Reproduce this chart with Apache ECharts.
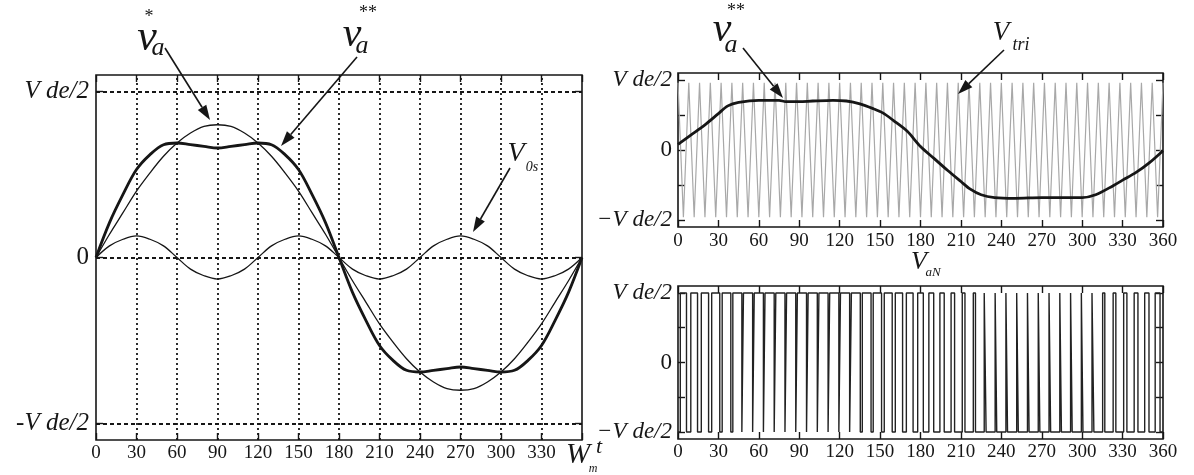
<!DOCTYPE html>
<html>
<head>
<meta charset="utf-8">
<script src="https://cdn.jsdelivr.net/npm/echarts@6/dist/echarts.min.js"></script>
<style>
  html, body { margin: 0; padding: 0; background: #fff; }
  #chart { width: 1194px; height: 475px; }
</style>
</head>
<body>
<div id="chart"></div>
<script>
// ---- values (in units of Vdc/2, angle in degrees) ----
const degLeft = [0,10,20,30,40,50,60,70,80,90,100,110,120,130,140,150,160,170,180,
                 190,200,210,220,230,240,250,260,270,280,290,300,310,320,330,340,350,360];

// sinusoidal reference v_a*
const vaStar = [0,0.14,0.27,0.40,0.51,0.61,0.69,0.75,0.79,0.80,0.79,0.75,0.69,0.61,0.51,0.40,0.27,0.14,0,
                -0.14,-0.27,-0.40,-0.51,-0.61,-0.69,-0.75,-0.79,-0.80,-0.79,-0.75,-0.69,-0.61,-0.51,-0.40,-0.27,-0.14,0];

// zero-sequence component V_0s
const v0s = [0,0.07,0.11,0.13,0.11,0.07,0,-0.07,-0.11,-0.13,-0.11,-0.07,0,0.07,0.11,0.13,0.11,0.07,0,
             -0.07,-0.11,-0.13,-0.11,-0.07,0,0.07,0.11,0.13,0.11,0.07,0,-0.07,-0.11,-0.13,-0.11,-0.07,0];

// modified reference v_a**
const vaDouble = [0,0.21,0.38,0.53,0.62,0.68,0.69,0.68,0.67,0.66,0.67,0.68,0.69,0.68,0.62,0.53,0.38,0.21,0,
                  -0.21,-0.38,-0.53,-0.62,-0.68,-0.69,-0.68,-0.67,-0.66,-0.67,-0.68,-0.69,-0.68,-0.62,-0.53,-0.38,-0.21,0];

// v_a** as drawn against the carrier
const rightDeg = [0,10,20,30,37,45,60,75,80,90,100,115,125,135,145,152,160,170,180,190,200,210,217,225,235,250,270,290,300,310,323,330,340,350,360];
const rightVa  = [0.08,0.22,0.36,0.52,0.63,0.68,0.71,0.71,0.69,0.69,0.70,0.71,0.70,0.66,0.59,0.53,0.42,0.27,0.05,-0.12,-0.29,-0.45,-0.56,-0.64,-0.68,-0.69,-0.68,-0.68,-0.68,-0.64,-0.51,-0.43,-0.32,-0.18,-0.01];

// triangular carrier V_tri: vertex angles and levels
const carrierDeg = [0,4,8,12,16,20,24,28,32,36,40,44,48,52,56,60,64,68,72,76,80,84,88,92,96,100,
                    104,108,112,116,120,124,128,132,136,140,144,148,152,156,160,164,168,172,176,180,
                    184,188,192,196,200,204,208,212,216,220,224,228,232,236,240,244,248,252,256,260,
                    264,268,272,276,280,284,288,292,296,300,304,308,312,316,320,324,328,332,336,340,
                    344,348,352,356,360];
const carrierLevel = [0.96,-0.96,0.96,-0.96,0.96,-0.96,0.96,-0.96,0.96,-0.96,0.96,-0.96,0.96,-0.96,0.96,-0.96,
                      0.96,-0.96,0.96,-0.96,0.96,-0.96,0.96,-0.96,0.96,-0.96,0.96,-0.96,0.96,-0.96,0.96,-0.96,
                      0.96,-0.96,0.96,-0.96,0.96,-0.96,0.96,-0.96,0.96,-0.96,0.96,-0.96,0.96,-0.96,0.96,-0.96,
                      0.96,-0.96,0.96,-0.96,0.96,-0.96,0.96,-0.96,0.96,-0.96,0.96,-0.96,0.96,-0.96,0.96,-0.96,
                      0.96,-0.96,0.96,-0.96,0.96,-0.96,0.96,-0.96,0.96,-0.96,0.96,-0.96,0.96,-0.96,0.96,-0.96,
                      0.96,-0.96,0.96,-0.96,0.96,-0.96,0.96,-0.96,0.96,-0.96,0.96];

// switching angles of V_aN: pairs of (rise to +Vdc/2, fall to -Vdc/2)
const vaNEdges = [1.7,6.3, 9.5,14.5, 17.3,22.7, 25.0,31.0, 32.8,39.2, 40.7,47.4, 48.6,55.4, 56.6,63.4,
                  64.6,71.4, 72.6,79.4, 80.6,87.4, 88.6,95.4, 96.6,103.4, 104.6,111.4, 112.6,119.4,
                  120.6,127.4, 128.7,135.3, 136.8,143.3, 144.9,151.1, 153.1,159.0, 161.3,166.7,
                  169.5,174.5, 177.9,182.1, 186.2,189.8, 194.4,197.6, 202.7,205.3, 211.0,213.0,
                  219.2,220.8, 227.3,228.7, 235.4,236.6, 243.4,244.6, 251.4,252.6, 259.4,260.6,
                  267.4,268.6, 275.4,276.6, 283.4,284.6, 291.4,292.6, 299.4,300.6, 307.3,308.7,
                  315.2,316.8, 323.0,325.0, 330.8,333.2, 338.6,341.4, 346.4,349.6, 354.2,357.8];

const gridDeg = [30,60,90,120,150,180,210,240,270,300,330];
const refLevels = [-1,0,1];
const leftTickLevels = [-1,0,1];
const rightTickLevels = [-1,-0.5,0,0.5,1];

// ---- drawing ----
const SERIF = "'Liberation Serif','DejaVu Serif',serif";
const INK = '#161616';

const chart = echarts.init(document.getElementById('chart'), null, { renderer: 'canvas' });

const gridBox = [
  { left: 96,  top: 75, width: 486, height: 365 },
  { left: 678, top: 73, width: 485, height: 154 },
  { left: 678, top: 286, width: 485, height: 153 }
];

function xAxes(gi, labelMargin, hideLast) {
  const tick = { show: true, inside: true, length: 7, lineStyle: { color: INK, width: 1.4 } };
  return [
    {
      type: 'value', gridIndex: gi, position: 'bottom', min: 0, max: 360, interval: 30,
      axisLine: { show: false, onZero: false }, axisTick: tick, splitLine: { show: false },
      axisLabel: {
        margin: labelMargin, color: INK, fontFamily: SERIF, fontSize: 19,
        formatter: v => (hideLast && v === 360) ? '' : String(v)
      }
    },
    {
      type: 'value', gridIndex: gi, position: 'top', min: 0, max: 360, interval: 30,
      axisLine: { show: false, onZero: false }, axisTick: tick, splitLine: { show: false },
      axisLabel: { show: false }
    }
  ];
}

function yAxes(gi, tickVals, minusSign, labelMargin, size) {
  const tick = { show: true, inside: true, length: 7, customValues: tickVals,
                 lineStyle: { color: INK, width: 1.4 } };
  return [
    {
      type: 'value', gridIndex: gi, position: 'left', min: -1.1, max: 1.1,
      axisLine: { show: false, onZero: false }, axisTick: tick, splitLine: { show: false },
      axisLabel: {
        customValues: [-1, 0, 1], margin: labelMargin, color: INK,
        formatter: v => v > 0.5 ? '{i|V de/2}' : (v < -0.5 ? '{i|' + minusSign + 'V de/2}' : '{n|0}'),
        rich: {
          i: { fontFamily: SERIF, fontStyle: 'italic', fontSize: size, color: INK },
          n: { fontFamily: SERIF, fontSize: size, color: INK }
        }
      }
    },
    {
      type: 'value', gridIndex: gi, position: 'right', min: -1.1, max: 1.1,
      axisLine: { show: false, onZero: false }, axisTick: tick, splitLine: { show: false },
      axisLabel: { show: false }
    }
  ];
}

const pairs = (xs, ys) => xs.map((x, i) => [x, ys[i]]);

// square wave path from the switching angles
const vaNPath = [[0, -1]];
vaNEdges.forEach((e, i) => {
  const before = i % 2 === 0 ? -1 : 1;
  vaNPath.push([e, before], [e, -before]);
});
vaNPath.push([360, -1]);

const dotted = (type) => ({ color: INK, width: 1.8, type: type });

const option = {
  animation: false,
  backgroundColor: '#fff',
  grid: gridBox.map(g => Object.assign({ show: true, borderColor: INK, borderWidth: 1.6,
                                          backgroundColor: 'transparent', containLabel: false }, g)),
  xAxis: [].concat(xAxes(0, 4, true), xAxes(1, 5, false), xAxes(2, 4, false)),
  yAxis: [].concat(yAxes(0, leftTickLevels, '-', 7, 25), yAxes(1, rightTickLevels, '\u2212', 6, 23),
                   yAxes(2, rightTickLevels, '\u2212', 6, 23)),
  series: [
    // dotted reference grid of the left panel
    {
      type: 'line', xAxisIndex: 0, yAxisIndex: 0, data: [], silent: true,
      markLine: {
        silent: true, symbol: 'none', label: { show: false },
        data: refLevels.map(v => ({ yAxis: v, lineStyle: dotted([4, 3]) }))
          .concat(gridDeg.map(d => ({ xAxis: d, lineStyle: dotted([2, 3]) })))
      }
    },
    {
      name: 'v_a*', type: 'line', xAxisIndex: 0, yAxisIndex: 0, data: pairs(degLeft, vaStar),
      smooth: 0.35, showSymbol: false, lineStyle: { color: INK, width: 1.3 }, z: 3
    },
    {
      name: 'V_0s', type: 'line', xAxisIndex: 0, yAxisIndex: 0, data: pairs(degLeft, v0s),
      smooth: 0.35, showSymbol: false, lineStyle: { color: INK, width: 1.3 }, z: 3
    },
    {
      name: 'v_a**', type: 'line', xAxisIndex: 0, yAxisIndex: 0, data: pairs(degLeft, vaDouble),
      smooth: 0.35, showSymbol: false, lineStyle: { color: INK, width: 2.8 }, z: 4
    },
    {
      name: 'V_tri', type: 'line', xAxisIndex: 2, yAxisIndex: 2, data: pairs(carrierDeg, carrierLevel),
      showSymbol: false, lineStyle: { color: '#a8a8a8', width: 1.2 }, z: 2
    },
    {
      name: 'v_a** (carrier panel)', type: 'line', xAxisIndex: 2, yAxisIndex: 2, data: pairs(rightDeg, rightVa),
      smooth: 0.3, showSymbol: false, lineStyle: { color: INK, width: 2.8 }, z: 4
    },
    {
      name: 'V_aN', type: 'line', xAxisIndex: 4, yAxisIndex: 4, data: vaNPath,
      showSymbol: false, lineStyle: { color: '#222', width: 1.4 }, z: 3
    }
  ]
};

// ---- annotations: symbols and arrows ----
function txt(x, y, s, size, italic, align) {
  return {
    type: 'text', x: x, y: y, z: 20,
    style: { text: s, fontFamily: SERIF, fontSize: size, fontStyle: italic ? 'italic' : 'normal',
             fill: INK, align: align || 'center', verticalAlign: 'middle' }
  };
}
function arrow(x1, y1, x2, y2) {
  const dx = x2 - x1, dy = y2 - y1, len = Math.hypot(dx, dy);
  const ux = dx / len, uy = dy / len, hl = 15, hw = 5;
  const bx = x2 - ux * hl, by = y2 - uy * hl;
  return [
    { type: 'line', z: 20, shape: { x1: x1, y1: y1, x2: bx, y2: by }, style: { stroke: INK, lineWidth: 1.6 } },
    { type: 'polygon', z: 20, shape: { points: [[x2, y2], [bx - uy * hw, by + ux * hw], [bx + uy * hw, by - ux * hw]] },
      style: { fill: INK } }
  ];
}

option.graphic = [].concat(
  // v_a*
  txt(147, 38, 'v', 44, true), txt(158, 48, 'a', 26, true), txt(149, 17, '*', 18, false),
  arrow(165, 48, 210, 120),
  // v_a**
  txt(352, 35, 'v', 42, true), txt(362, 46, 'a', 26, true), txt(368, 13, '**', 18, false),
  arrow(357, 57, 281, 146),
  // V_0s
  txt(516, 154, 'V', 28, true), txt(532, 167, '0s', 14, true),
  arrow(510, 168, 473, 232),
  // v_a** above the carrier panel
  txt(722, 30, 'v', 42, true), txt(731, 45, 'a', 26, true), txt(736, 11, '**', 18, false),
  arrow(743, 48, 783, 98),
  // V_tri
  txt(1001, 33, 'V', 27, true), txt(1021, 45, 'tri', 18, true, 'center'),
  arrow(1004, 50, 958, 94),
  // V_aN
  txt(919, 262, 'V', 26, true), txt(933, 273, 'aN', 13, true),
  // W_m t
  txt(578, 455, 'W', 29, true), txt(593, 469, 'm', 12, true), txt(599, 447, 't', 22, true)
);

chart.setOption(option);
</script>
</body>
</html>
